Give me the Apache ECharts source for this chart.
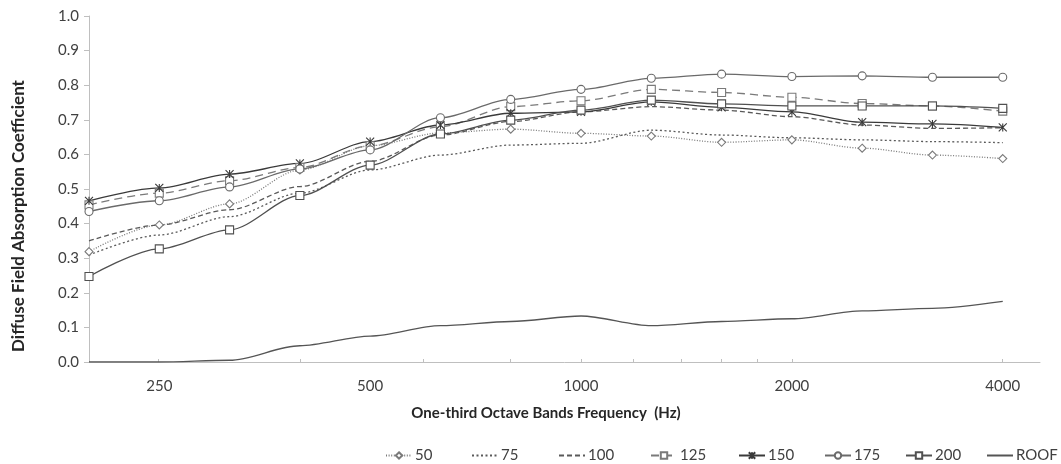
<!DOCTYPE html>
<html>
<head>
<meta charset="UTF-8">
<title>Diffuse Field Absorption Coefficient</title>
<script type="text/javascript" src="https://cdn.jsdelivr.net/npm/echarts@6/dist/echarts.min.js"></script>
<style>
  html, body { margin: 0; padding: 0; background: #fff; }
</style>
</head>
<body>
<div id="main" style="width: 1061px; height: 464px;"></div>
<script type="text/javascript">
// one-third octave bands (Hz)
var freqs = ['200', '250', '315', '400', '500', '630', '800', '1000', '1250', '1600', '2000', '2500', '3150', '4000'];
var labelBands = ['250', '500', '1000', '2000', '4000'];
var yTicks = [0, 0.1, 0.2, 0.3, 0.4, 0.5, 0.6, 0.7, 0.8, 0.9, 1.0];
var seriesNames = ['50', '75', '100', '125', '150', '175', '200', 'ROOF'];

var s50  = [0.319, 0.396, 0.457, 0.555, 0.625, 0.662, 0.673, 0.661, 0.653, 0.635, 0.642, 0.618, 0.598, 0.588];
var s75  = [0.309, 0.367, 0.420, 0.488, 0.555, 0.598, 0.627, 0.632, 0.670, 0.656, 0.648, 0.642, 0.637, 0.634];
var s100 = [0.350, 0.396, 0.440, 0.507, 0.580, 0.656, 0.695, 0.723, 0.738, 0.728, 0.709, 0.685, 0.675, 0.677];
var s125 = [0.454, 0.488, 0.524, 0.562, 0.625, 0.680, 0.738, 0.755, 0.788, 0.779, 0.765, 0.747, 0.740, 0.725];
var s150 = [0.466, 0.503, 0.543, 0.574, 0.637, 0.685, 0.719, 0.723, 0.752, 0.736, 0.723, 0.693, 0.688, 0.678];
var s175 = [0.435, 0.466, 0.506, 0.558, 0.613, 0.706, 0.759, 0.788, 0.820, 0.832, 0.825, 0.827, 0.823, 0.823];
var s200 = [0.247, 0.327, 0.382, 0.481, 0.569, 0.659, 0.699, 0.728, 0.757, 0.746, 0.740, 0.740, 0.740, 0.733];
var roof = [0.000, 0.000, 0.005, 0.047, 0.075, 0.105, 0.117, 0.133, 0.105, 0.117, 0.125, 0.148, 0.155, 0.175];

var FONT = 'Lato';
var star = 'path://M0,0L10,10M10,0L0,10M5,0L5,10';

function pts(arr) {
	var out = [];
	for (var i = 0; i < arr.length; i++) out.push([i, arr[i]]);
	return out;
}

function line(name, data, color, dash, symbol, size, fill) {
	return {
		name: name,
		type: 'line',
		data: pts(data),
		smooth: 0.3,
		smoothMonotone: 'x',
		symbol: symbol || 'none',
		symbolSize: size || 7,
		showSymbol: !!symbol,
		lineStyle: { color: color, width: 1.3, type: dash },
		itemStyle: { color: fill || '#fff', borderColor: color, borderWidth: 1.1 },
		emphasis: { disabled: true },
		z: 2
	};
}

var tickIdx = labelBands.map(function (f) { return freqs.indexOf(f); });

// one legend per entry so the keys sit evenly like the original
var legendLeft = [385, 471, 558, 650, 738, 824, 905, 986];
var noMarker = { '75': 1, '100': 1, 'ROOF': 1 };
var legends = seriesNames.map(function (n, i) {
	var item = { name: n };
	if (noMarker[n]) item.itemStyle = { opacity: 0 };
	return {
		left: legendLeft[i],
		top: 448,
		padding: 0,
		itemWidth: 26,
		itemHeight: 8,
		textStyle: { fontFamily: FONT, fontSize: 15, color: '#404040', padding: [0, 0, 0, -2] },
		data: [item]
	};
});

var myChart = echarts.init(document.getElementById('main'), null, { renderer: 'canvas' });

var option = {
	animation: false,
	textStyle: { fontFamily: FONT },
	grid: { left: 89, right: 21, top: 16, bottom: 102 },
	legend: legends,
	xAxis: {
		type: 'value',
		min: 0,
		max: 13.53,
		splitLine: { show: false },
		axisLine: { show: true, lineStyle: { color: '#bfbfbf' } },
		axisTick: { show: true, length: 3, inside: true, lineStyle: { color: '#bfbfbf' },
			customValues: [0.98, 3, 4.75, 6, 7, 7.75, 8.42, 9, 9.51, 10, 13] },
		axisLabel: {
			customValues: tickIdx,
			margin: 17,
			fontSize: 15,
			color: '#404040',
			formatter: function (v) { return freqs[Math.round(v)]; }
		}
	},
	yAxis: {
		type: 'value',
		min: yTicks[0],
		max: yTicks[yTicks.length - 1],
		interval: 0.1,
		splitLine: { show: false },
		axisLine: { show: true, lineStyle: { color: '#bfbfbf' } },
		axisTick: { show: true, length: 5, lineStyle: { color: '#bfbfbf' } },
		axisLabel: {
			margin: 10,
			fontSize: 15,
			color: '#404040',
			formatter: function (v) { return v.toFixed(1); }
		}
	},
	graphic: [{
		type: 'text',
		x: 546,
		y: 413,
		style: {
			text: 'One-third Octave Bands Frequency  (Hz)',
			font: 'bold 15px ' + FONT,
			fill: '#262626',
			align: 'center',
			verticalAlign: 'middle'
		}
	}, {
		type: 'text',
		x: 19,
		y: 216,
		rotation: Math.PI / 2,
		style: {
			text: 'Diffuse Field Absorption Coefficient',
			font: 'bold 17px ' + FONT,
			fill: '#262626',
			align: 'center',
			verticalAlign: 'middle'
		}
	}],
	series: [
		line('50', s50, '#7a7a7a', [1, 1.6], 'diamond', 8),
		line('75', s75, '#5a5a5a', [2, 2.5]),
		line('100', s100, '#5a5a5a', [5, 3]),
		line('125', s125, '#7a7a7a', [8, 5], 'rect', 8),
		line('150', s150, '#3a3a3a', 'solid', star, 8, '#3a3a3a'),
		line('175', s175, '#6a6a6a', 'solid', 'circle', 8),
		line('200', s200, '#505050', 'solid', 'rect', 8),
		line('ROOF', roof, '#555555', 'solid')
	]
};
myChart.setOption(option);
</script>
</body>
</html>
